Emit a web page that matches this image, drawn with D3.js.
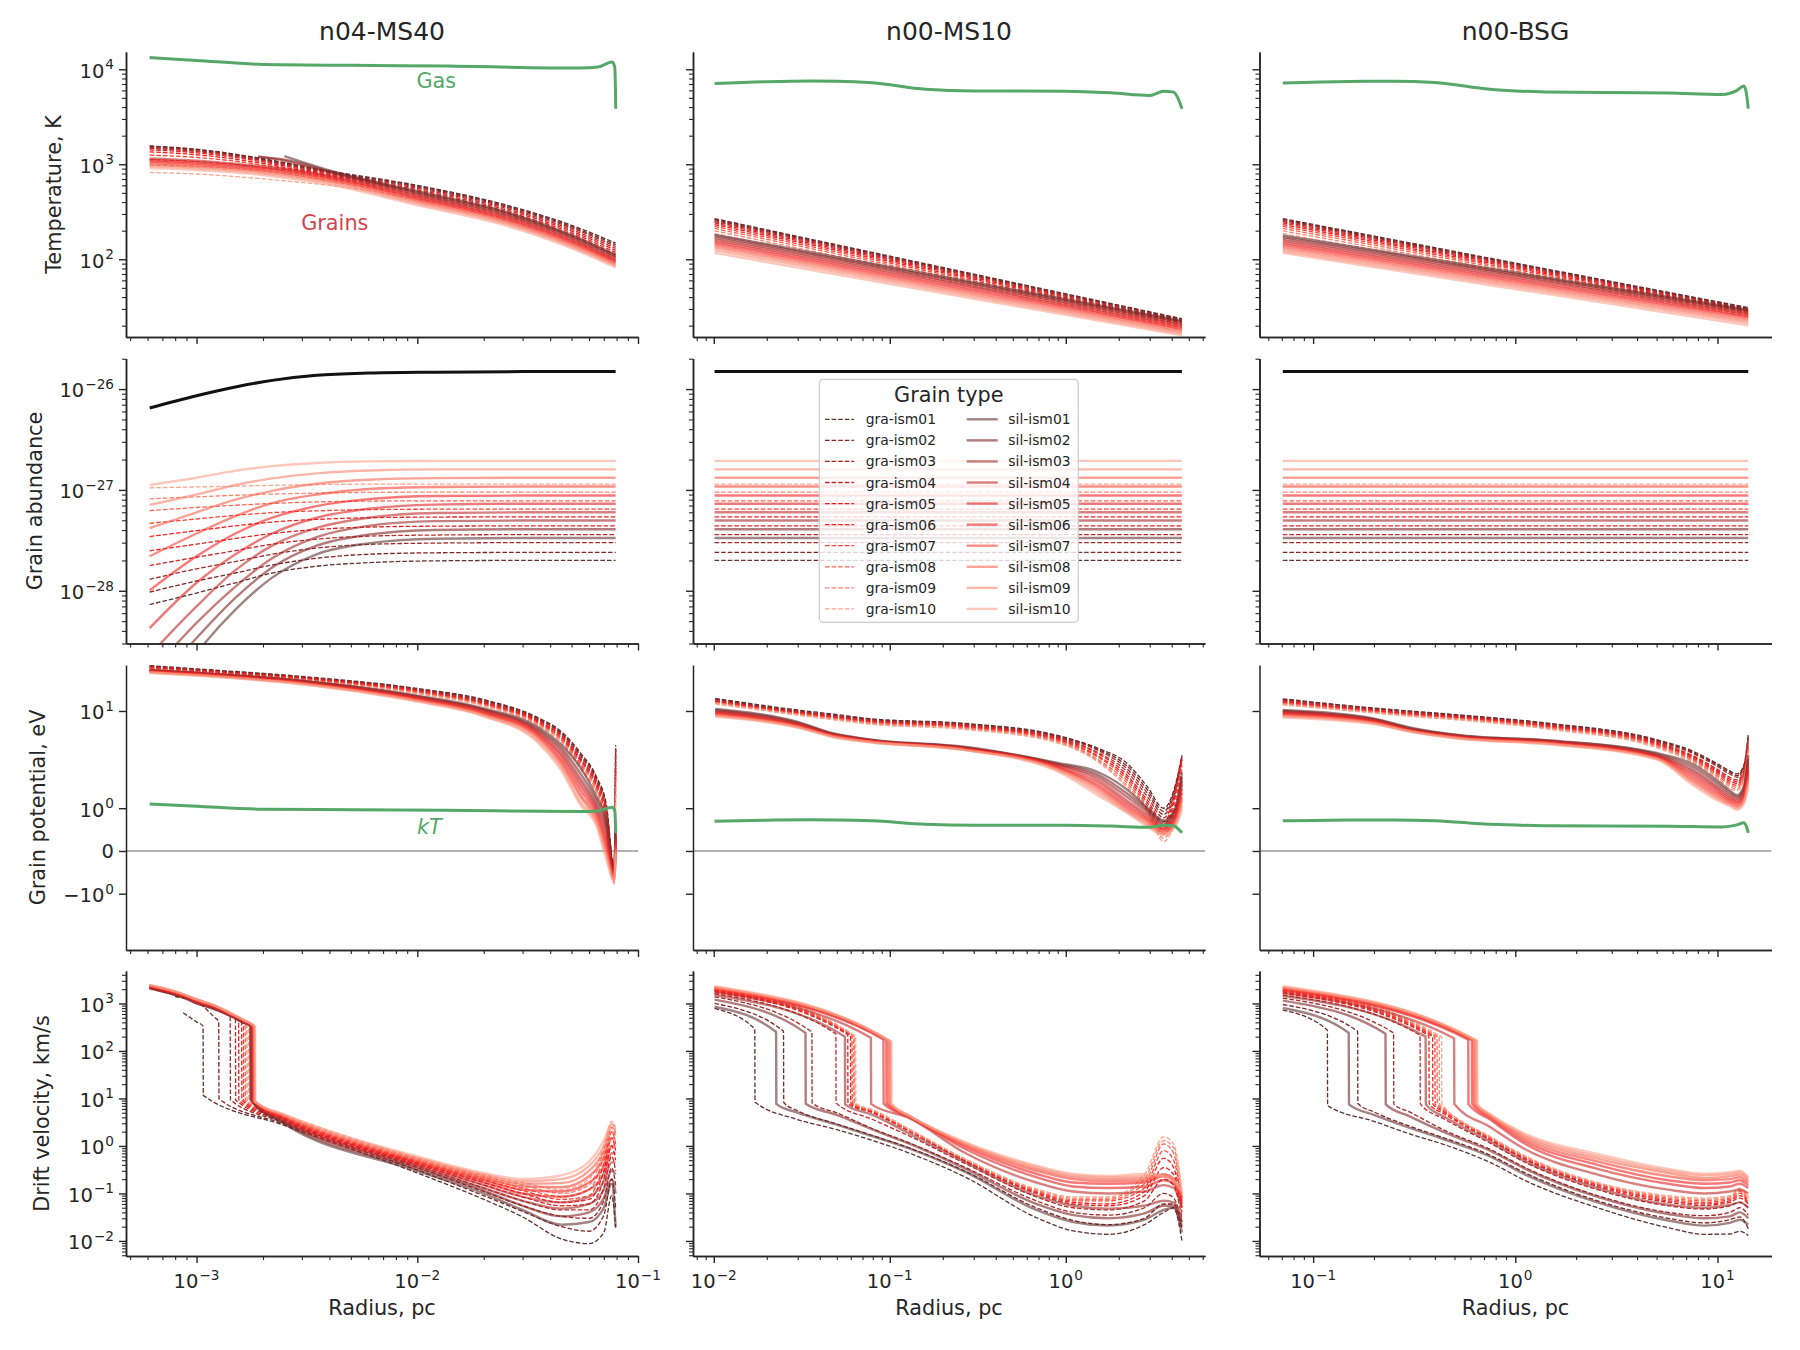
<!DOCTYPE html>
<html><head><meta charset="utf-8">
<script src="https://cdn.jsdelivr.net/npm/d3@7"></script>
<style>body{margin:0;background:#fff}svg text{font-family:"DejaVu Sans",sans-serif}</style>
</head><body><svg id="chart" width="1800" height="1350"></svg>
<script>
// ---------------- labels / categories ----------------
const titles = ["n04-MS40", "n00-MS10", "n00-BSG"];
const yLabels = ["Temperature, K", "Grain abundance", "Grain potential, eV", "Drift velocity, km/s"];
const xLabel = "Radius, pc";
const graNames = ["gra-ism01","gra-ism02","gra-ism03","gra-ism04","gra-ism05","gra-ism06","gra-ism07","gra-ism08","gra-ism09","gra-ism10"];
const silNames = ["sil-ism01","sil-ism02","sil-ism03","sil-ism04","sil-ism05","sil-ism06","sil-ism07","sil-ism08","sil-ism09","sil-ism10"];
const legendTitle = "Grain type";

// ---------------- axes ----------------
const xDomains = [[4.79e-4, 0.1], [7.62e-3, 6.18], [5.43e-2, 18.5]];
const yDomains = [[15.2, 15200], [3.0e-29, 2.01e-26], [-4.3, 24.2], [4.82e-3, 4820]];
const xTickVals = [[1e-3, 1e-2, 1e-1], [1e-2, 1e-1, 1], [1e-1, 1, 10]];
const yTickVals = [[1e2, 1e3, 1e4], [1e-28, 1e-27, 1e-26], [-1, 0, 1, 10], [1e-2, 1e-1, 1, 10, 100, 1000]];
const potTickLabels = [["\u221210", "0"], ["0", null], ["10", "0"], ["10", "1"]];
const radiusRange2 = [0.0101, 4.57];
const radiusRange3 = [0.0708, 14.2];

// ---------------- Row 1: temperature ----------------
const tempX1 = [6.13e-4, 1e-3, 1.9e-3, 2.5e-3, 4e-3, 1e-2, 2.5e-2, 5e-2, 7.92e-2];
const tempGra1 = [
 [1560,1440,1170,1040,850,600,375,228,148],
 [1540,1420,1150,1025,835,588,366,221,142],
 [1510,1390,1130,1005,820,574,356,214,136],
 [1470,1360,1110,985,805,558,345,206,130],
 [1420,1320,1080,960,785,540,333,198,124],
 [1350,1260,1040,930,765,520,320,190,118],
 [1250,1180,1000,900,740,500,308,182,112],
 [1120,1070,940,860,710,478,294,174,106],
 [980,950,860,800,670,455,280,165,100],
 [820,790,710,670,600,430,265,156,95]];
const tempSil1 = [
 [null,null,null,1220,860,520,318,180,112],
 [null,null,1190,1120,840,502,306,174,108],
 [null,null,1210,1090,820,484,295,168,104],
 [1150,1090,960,900,760,466,284,162,100],
 [1110,1050,930,870,735,450,274,156,97],
 [1070,1010,900,840,710,434,264,151,94],
 [1030,975,870,810,685,418,255,146,91],
 [990,940,840,780,660,403,246,141,88],
 [950,905,810,750,635,388,237,136,85],
 [910,870,780,720,610,372,228,131,82]];
const tempGra2 = [[268,23.7],[262,23.3],[256,22.9],[249,22.4],[241,21.9],[232,21.3],[222,20.6],[211,19.9],[199,19.1],[186,18.3]];
const tempSil2 = [[182,22.6],[175,21.9],[168,21.1],[161,20.3],[154,19.5],[147,18.7],[140,17.9],[133,17.1],[125,16.4],[117,15.8]];
const tempGra3 = [[268,31],[262,30.5],[256,30],[249,29.5],[241,28.9],[232,28.2],[222,27.5],[211,26.7],[199,25.8],[186,24.8]];
const tempSil3 = [[178,29.5],[171,28.6],[164,27.6],[157,26.6],[150,25.6],[143,24.6],[136,23.6],[129,22.5],[122,21.4],[117,20.2]];
const gasTemp1 = [[6.13e-4,13300],[1e-3,12400],[1.9e-3,11300],[5e-3,11000],[0.0136,10800],[0.055,10300],[0.066,10550],[0.0763,11900],[0.0785,10500],[0.0793,3850]];
const gasTemp2 = [[0.0101,7070],[0.02,7400],[0.035,7530],[0.05,7500],[0.08,7200],[0.16,6150],[0.3,5900],[1.0,5880],[1.8,5650],[3.0,5300],[3.6,5870],[4.1,5750],[4.35,4900],[4.57,3850]];
const gasTemp3 = [[0.0708,7180],[0.15,7450],[0.25,7480],[0.4,7250],[0.75,6150],[1.4,5780],[5.7,5630],[10.5,5420],[12.5,6000],[13.5,6650],[13.9,5600],[14.2,3850]];

// ---------------- Row 2: abundance ----------------
const abundX1 = [6.13e-4, 1e-3, 1.5e-3, 2.2e-3, 3.5e-3, 6e-3, 1.2e-2, 3e-2, 7.92e-2];
const abundGra1 = [
 [7.3e-29,9.5e-29,1.2e-28,1.5e-28,1.75e-28,1.9e-28,1.98e-28,2.0e-28,2.0e-28],
 [9.7e-29,1.25e-28,1.5e-28,1.8e-28,2.1e-28,2.3e-28,2.38e-28,2.4e-28,2.4e-28],
 [1.3e-28,1.65e-28,1.95e-28,2.3e-28,2.65e-28,2.88e-28,2.97e-28,3.0e-28,3.0e-28],
 [1.78e-28,2.15e-28,2.5e-28,2.9e-28,3.25e-28,3.48e-28,3.57e-28,3.6e-28,3.6e-28],
 [2.49e-28,2.9e-28,3.3e-28,3.7e-28,4.05e-28,4.28e-28,4.37e-28,4.4e-28,4.4e-28],
 [3.45e-28,3.95e-28,4.4e-28,4.8e-28,5.1e-28,5.3e-28,5.38e-28,5.4e-28,5.4e-28],
 [4.67e-28,5.15e-28,5.6e-28,5.95e-28,6.2e-28,6.38e-28,6.44e-28,6.45e-28,6.45e-28],
 [6.24e-28,6.7e-28,7.05e-28,7.35e-28,7.6e-28,7.75e-28,7.8e-28,7.8e-28,7.8e-28],
 [8.15e-28,8.55e-28,8.85e-28,9.1e-28,9.3e-28,9.45e-28,9.5e-28,9.5e-28,9.5e-28],
 [1.05e-27,1.07e-27,1.09e-27,1.11e-27,1.13e-27,1.14e-27,1.14e-27,1.14e-27,1.14e-27]];
const abundSil1 = [
 [5e-30,2.4e-29,6.5e-29,1.35e-28,2.3e-28,2.95e-28,3.28e-28,3.34e-28,3.34e-28],
 [1e-29,3.4e-29,8.5e-29,1.7e-28,2.8e-28,3.6e-28,4.0e-28,4.08e-28,4.08e-28],
 [1.5e-29,4.8e-29,1.1e-28,2.1e-28,3.4e-28,4.4e-28,4.9e-28,4.97e-28,4.97e-28],
 [2.3e-29,7e-29,1.6e-28,2.8e-28,4.2e-28,5.3e-28,5.9e-28,6.0e-28,6.0e-28],
 [4.26e-29,1.2e-28,2.3e-28,3.7e-28,5.3e-28,6.5e-28,7.15e-28,7.3e-28,7.3e-28],
 [1.01e-28,2.2e-28,3.7e-28,5.3e-28,6.9e-28,8.1e-28,8.7e-28,8.8e-28,8.8e-28],
 [2.2e-28,3.7e-28,5.5e-28,7.4e-28,9.0e-28,1.02e-27,1.07e-27,1.08e-27,1.08e-27],
 [4.17e-28,6.0e-28,8.0e-28,9.8e-28,1.15e-27,1.26e-27,1.31e-27,1.32e-27,1.32e-27],
 [7.1e-28,9.0e-28,1.12e-27,1.3e-27,1.46e-27,1.56e-27,1.6e-27,1.6e-27,1.6e-27],
 [1.12e-27,1.32e-27,1.55e-27,1.72e-27,1.85e-27,1.92e-27,1.94e-27,1.94e-27,1.94e-27]];
const abundTotal1 = [6.5e-27,8.6e-27,1.05e-26,1.22e-26,1.37e-26,1.44e-26,1.47e-26,1.49e-26,1.49e-26];
const abundGraFinal = [2.0e-28,2.4e-28,3.0e-28,3.6e-28,4.4e-28,5.4e-28,6.45e-28,7.8e-28,9.5e-28,1.14e-27];
const abundSilFinal = [3.34e-28,4.08e-28,4.97e-28,6.0e-28,7.3e-28,8.8e-28,1.08e-27,1.32e-27,1.6e-27,1.94e-27];
const abundTotalFinal = 1.49e-26;

// ---------------- Row 3: grain potential ----------------
const potX1 = [6.13e-4, 1e-3, 3e-3, 1e-2, 2e-2, 3.5e-2, 4.5e-2, 5.5e-2, 6.5e-2, 7.2e-2, 7.8e-2, 7.92e-2];
const potGra1 = [
 [23.9,22.5,19.5,15.5,12.5,8.8,6.6,4.2,2.4,1.1,-0.3,4.8],
 [23.7,22.3,19.3,15.3,12.3,8.6,6.4,4.0,2.3,1.0,-0.35,4.2],
 [23.5,22.1,19.2,15.2,12.1,8.5,6.3,3.9,2.2,0.95,-0.4,5.0],
 [23.3,21.9,19.0,15.0,11.9,8.3,6.1,3.7,2.1,0.9,-0.45,3.5],
 [23.1,21.7,18.8,14.8,11.7,8.2,6.0,3.6,2.0,0.8,-0.5,4.5],
 [22.9,21.5,18.7,14.7,11.6,8.0,5.8,3.5,1.9,0.7,-0.55,3.0],
 [22.7,21.3,18.5,14.5,11.4,7.9,5.7,3.3,1.8,0.65,-0.6,2.5],
 [22.5,21.1,18.3,14.3,11.3,7.8,5.5,3.2,1.7,0.55,-0.62,2.0],
 [22.2,21.0,18.1,14.1,11.1,7.6,5.4,3.0,1.6,0.5,-0.66,1.6],
 [22.0,20.8,18.0,14.0,11.0,7.5,5.2,2.9,1.5,0.4,-0.7,1.2]];
const potSil1 = [
 [22.0,20.9,18.0,13.5,10.5,7.3,5.0,3.0,1.4,0.63,-0.4,0.5],
 [21.9,20.8,17.9,13.3,10.3,7.0,4.7,2.6,1.25,0.5,-0.42,0.4],
 [21.8,20.7,17.7,13.2,10.2,6.8,4.4,2.3,1.1,0.4,-0.45,0.3],
 [21.7,20.6,17.6,13.0,10.0,6.6,4.1,2.1,1.0,0.3,-0.47,0.25],
 [21.6,20.5,17.5,12.8,9.8,6.4,3.9,1.9,0.9,0.2,-0.5,0.2],
 [21.5,20.4,17.3,12.7,9.6,6.2,3.6,1.7,0.8,0.1,-0.52,0.15],
 [21.3,20.2,17.2,12.5,9.5,6.0,3.4,1.5,0.7,0.05,-0.55,0.1],
 [21.2,20.1,17.1,12.3,9.3,5.8,3.2,1.4,0.6,-0.02,-0.57,0.05],
 [21.0,19.9,16.9,12.2,9.1,5.5,3.0,1.2,0.55,-0.08,-0.6,0.0],
 [20.9,19.8,16.8,12.0,9.0,5.3,2.8,1.1,0.48,-0.15,-0.62,-0.05]];
const kT1 = [[6.13e-4,1.15],[1e-3,1.07],[1.9e-3,0.97],[5e-3,0.95],[0.0136,0.93],[0.055,0.89],[0.066,0.91],[0.0763,1.03],[0.0785,0.9],[0.0793,0.33]];

const potX2 = [0.0102, 0.03, 0.048, 0.076, 0.27, 0.9, 1.5, 2.2, 2.9, 3.6, 4.2, 4.57];
const potGra2 = [
 [12.8,10.2,9.4,8.6,7.8,6.1,4.7,3.4,1.9,1.0,2.0,4.0],
 [12.6,10.0,9.2,8.5,7.7,6.0,4.6,3.2,1.75,0.9,1.9,3.9],
 [12.4,9.9,9.1,8.4,7.6,5.9,4.5,3.0,1.6,0.8,1.8,3.8],
 [12.3,9.8,9.0,8.3,7.5,5.8,4.3,2.8,1.45,0.7,1.7,3.7],
 [12.1,9.7,8.9,8.2,7.4,5.7,4.2,2.6,1.3,0.6,1.6,3.6],
 [12.0,9.6,8.8,8.1,7.3,5.6,4.0,2.45,1.2,0.5,1.5,3.5],
 [11.9,9.5,8.7,8.0,7.2,5.5,3.9,2.3,1.1,0.4,1.3,3.2],
 [11.8,9.4,8.6,7.9,7.1,5.4,3.7,2.15,1.0,0.3,1.1,2.9],
 [11.6,9.3,8.5,7.8,7.0,5.3,3.6,2.0,0.95,0.22,0.9,2.6],
 [11.5,9.2,8.4,7.7,6.9,5.2,3.5,1.9,0.9,0.16,0.7,2.3]];
const potSil2 = [
 [10.4,8.05,6.35,5.63,4.8,3.37,2.76,1.78,1.02,0.63,1.02,2.7],
 [10.2,7.9,6.3,5.6,4.75,3.3,2.6,1.6,0.95,0.58,0.95,2.4],
 [10.0,7.8,6.25,5.55,4.7,3.25,2.45,1.45,0.88,0.53,0.88,2.2],
 [9.85,7.7,6.2,5.5,4.65,3.2,2.3,1.3,0.8,0.48,0.8,2.0],
 [9.7,7.6,6.15,5.5,4.6,3.1,2.15,1.2,0.73,0.44,0.75,1.8],
 [9.55,7.5,6.1,5.45,4.58,3.05,2.0,1.1,0.67,0.4,0.68,1.6],
 [9.4,7.4,6.05,5.4,4.55,3.0,1.9,1.02,0.62,0.36,0.62,1.4],
 [9.25,7.3,6.0,5.38,4.5,2.92,1.78,0.95,0.57,0.33,0.57,1.25],
 [9.1,7.25,5.92,5.35,4.48,2.85,1.65,0.9,0.52,0.3,0.52,1.1],
 [8.95,7.17,5.87,5.3,4.45,2.76,1.52,0.87,0.48,0.28,0.48,0.95]];
const kT2 = [[0.0101,0.61],[0.02,0.638],[0.035,0.649],[0.05,0.646],[0.08,0.62],[0.16,0.53],[0.3,0.508],[1.0,0.507],[1.8,0.487],[3.0,0.457],[3.6,0.506],[4.1,0.495],[4.35,0.42],[4.57,0.332]];

const potX3 = [0.0708, 0.2, 0.3, 0.55, 1.5, 5.0, 7.5, 10.0, 11.5, 12.5, 13.5, 14.2];
const potGra3 = [
 [12.7,10.6,10.0,9.2,7.8,5.6,4.4,3.3,2.8,2.6,3.2,6.2],
 [12.5,10.5,9.9,9.1,7.7,5.5,4.3,3.2,2.7,2.5,3.1,6.0],
 [12.4,10.4,9.8,9.0,7.6,5.4,4.2,3.1,2.6,2.4,3.0,5.8],
 [12.2,10.2,9.6,8.9,7.5,5.3,4.0,2.9,2.4,2.25,2.8,5.5],
 [12.0,10.1,9.5,8.8,7.4,5.2,3.9,2.8,2.3,2.15,2.7,5.3],
 [11.9,10.0,9.4,8.7,7.3,5.1,3.8,2.7,2.2,2.05,2.6,5.0],
 [11.7,9.9,9.3,8.6,7.2,5.0,3.7,2.6,2.1,1.95,2.5,4.8],
 [11.6,9.8,9.2,8.5,7.1,4.9,3.6,2.5,2.0,1.85,2.4,4.6],
 [11.4,9.7,9.1,8.4,7.0,4.8,3.5,2.4,1.9,1.75,2.3,4.4],
 [11.3,9.6,9.0,8.3,6.9,4.7,3.4,2.3,1.8,1.7,2.2,4.2]];
const potSil3 = [
 [10.2,8.6,7.2,6.1,5.5,4.2,3.3,2.2,1.7,1.5,1.9,4.0],
 [10.0,8.5,7.1,6.05,5.45,4.1,3.1,2.05,1.6,1.42,1.8,3.7],
 [9.9,8.4,7.0,6.0,5.4,4.0,2.9,1.9,1.5,1.35,1.7,3.4],
 [9.7,8.3,6.9,5.95,5.35,3.95,2.75,1.8,1.42,1.28,1.6,3.1],
 [9.6,8.2,6.85,5.9,5.3,3.9,2.6,1.7,1.35,1.22,1.5,2.9],
 [9.4,8.1,6.8,5.85,5.25,3.85,2.45,1.6,1.28,1.16,1.42,2.7],
 [9.3,8.0,6.75,5.8,5.2,3.8,2.3,1.5,1.22,1.1,1.35,2.5],
 [9.1,7.9,6.7,5.75,5.15,3.75,2.2,1.42,1.16,1.05,1.28,2.3],
 [9.0,7.8,6.65,5.7,5.1,3.7,2.1,1.35,1.12,1.0,1.22,2.1],
 [8.8,7.7,6.6,5.65,5.05,3.65,2.0,1.28,1.08,0.95,1.15,1.9]];
const kT3 = [[0.0708,0.62],[0.15,0.642],[0.25,0.645],[0.4,0.625],[0.75,0.53],[1.4,0.498],[5.7,0.485],[10.5,0.467],[12.5,0.517],[13.5,0.573],[13.9,0.48],[14.2,0.332]];

// ---------------- Row 4: drift velocity ----------------
// pre-jump values, jump [x, value above, value below], post-jump values
const driftPreX1 = [6.13e-4, 8e-4, 8.7e-4, 1e-3, 1.2e-3, 1.45e-3, 1.65e-3];
const driftPreGra1 = [
 [null,null,635,410,null,null,null],
 [null,1400,1300,1085,520,null,null],
 [2100,1520,1370,1120,780,null,null],
 [2150,1560,1400,1140,800,null,null],
 [2200,1600,1430,1160,820,560,null],
 [2250,1640,1460,1180,840,575,null],
 [2300,1680,1490,1200,860,590,null],
 [2350,1720,1520,1220,880,600,410],
 [2400,1760,1550,1240,900,610,415],
 [2450,1800,1580,1260,920,620,420]];
const driftPreSil1 = [
 [2070,1500,1330,1000,760,520,380],
 [2110,1530,1360,1020,780,530,390],
 [2150,1560,1390,1040,800,540,400],
 [2200,1600,1420,1070,820,550,410],
 [2250,1640,1450,1100,840,560,420],
 [2300,1680,1480,1130,860,570,425],
 [2350,1720,1510,1160,880,580,430],
 [2400,1760,1540,1190,900,590,435],
 [2430,1790,1560,1210,910,595,438],
 [2450,1800,1580,1230,920,600,440]];
const driftJumpGra1 = [[1.07e-3,332,11.6],[1.26e-3,410,9.8],[1.42e-3,520,9.3],[1.5e-3,500,9.2],[1.55e-3,470,9.1],[1.6e-3,440,9.0],[1.63e-3,420,8.9],[1.66e-3,400,8.8],[1.69e-3,390,8.7],[1.72e-3,380,8.6]];
const driftJumpSil1 = [[1.75e-3,350,9.5],[1.76e-3,345,9.4],[1.77e-3,340,9.3],[1.78e-3,338,9.2],[1.79e-3,336,9.1],[1.8e-3,334,9.0],[1.81e-3,332,8.9],[1.82e-3,330,8.8],[1.83e-3,328,8.7],[1.84e-3,325,8.6]];
const driftPostX1 = [2.5e-3, 1e-2, 2e-2, 3e-2, 4.5e-2, 6e-2, 7e-2, 7.6e-2, 7.92e-2];
const driftPostGra1 = [
 [2.7,0.27,0.075,0.032,0.011,0.0088,0.015,0.09,0.019],
 [2.9,0.31,0.09,0.042,0.02,0.016,0.035,0.2,0.05],
 [3.1,0.35,0.11,0.055,0.033,0.03,0.07,0.35,0.15],
 [3.3,0.38,0.13,0.07,0.045,0.045,0.13,0.6,0.3],
 [3.5,0.41,0.15,0.085,0.055,0.06,0.2,1.0,0.5],
 [3.7,0.44,0.17,0.1,0.065,0.075,0.3,1.5,0.8],
 [3.9,0.47,0.19,0.115,0.075,0.09,0.42,2.0,1.1],
 [4.1,0.5,0.21,0.13,0.085,0.12,0.6,2.5,1.5],
 [4.3,0.54,0.23,0.15,0.1,0.15,0.8,3.0,1.9],
 [4.5,0.57,0.25,0.17,0.12,0.2,1.0,3.3,2.3]];
const driftPostSil1 = [
 [2.9,0.3,0.1,0.045,0.022,0.025,0.05,0.16,0.02],
 [3.1,0.33,0.115,0.055,0.033,0.04,0.08,0.2,0.1],
 [3.3,0.36,0.13,0.07,0.048,0.06,0.12,0.3,0.25],
 [3.5,0.39,0.15,0.085,0.065,0.085,0.18,0.45,0.45],
 [3.7,0.42,0.17,0.1,0.085,0.12,0.26,0.7,0.7],
 [3.9,0.45,0.19,0.12,0.11,0.17,0.38,1.0,1.0],
 [4.1,0.48,0.21,0.14,0.135,0.23,0.55,1.4,1.4],
 [4.3,0.52,0.23,0.16,0.165,0.3,0.75,1.9,1.8],
 [4.45,0.56,0.25,0.18,0.2,0.38,1.0,2.4,2.2],
 [4.6,0.6,0.27,0.2,0.24,0.47,1.3,2.9,2.6]];

const driftPreX2 = [0.0101];
const driftPreGra2 = [[783],[1000],[1380],[1600],[1750],[1850],[1950],[2050],[2150],[2250]];
const driftPreSil2 = [[850],[1200],[1500],[1700],[1850],[1950],[2050],[2150],[2230],[2320]];
const driftJumpGra2 = [[0.0171,290,8.4],[0.0249,260,8.2],[0.0361,250,8.0],[0.0494,230,8.0],[0.0577,220,7.8],[0.0598,215,7.8],[0.061,212,7.8],[0.0624,208,7.8],[0.063,206,7.8],[0.064,204,7.8]];
const driftJumpSil2 = [[0.0226,250,7.7],[0.0332,240,7.7],[0.0556,200,7.5],[0.0781,190,7.7],[0.092,175,7.8],[0.0955,170,7.8],[0.098,165,7.8],[0.1,160,7.8],[0.101,157,7.8],[0.102,155,7.7]];
const driftPostX2 = [0.03, 0.05, 0.08, 0.13, 0.27, 0.68, 1.1, 1.75, 2.8, 3.6, 4.1, 4.57];
const driftPostGra2 = [
 [3.6,2.2,1.3,0.7,0.218,0.031,0.0163,0.0138,0.022,0.04,0.05,0.01],
 [5.5,2.9,1.65,0.9,0.29,0.05,0.027,0.022,0.03,0.06,0.06,0.018],
 [null,5.0,2.3,1.15,0.35,0.07,0.04,0.035,0.05,0.1,0.08,0.025],
 [null,null,3.6,1.6,0.42,0.085,0.05,0.045,0.07,0.2,0.15,0.03],
 [null,null,5.0,2.0,0.47,0.1,0.06,0.055,0.09,0.35,0.25,0.04],
 [null,null,5.2,2.05,0.48,0.105,0.065,0.06,0.11,0.55,0.35,0.05],
 [null,null,5.4,2.1,0.5,0.11,0.07,0.07,0.13,0.8,0.5,0.06],
 [null,null,5.6,2.15,0.51,0.115,0.075,0.075,0.16,1.1,0.7,0.08],
 [null,null,5.7,2.2,0.52,0.12,0.08,0.08,0.2,1.3,0.9,0.1],
 [null,null,5.8,2.25,0.53,0.125,0.085,0.085,0.25,1.55,1.1,0.12]];
const driftPostSil2 = [
 [5.0,2.8,1.6,0.88,0.28,0.045,0.025,0.021,0.028,0.045,0.05,0.015],
 [null,4.5,2.2,1.1,0.33,0.06,0.035,0.03,0.038,0.055,0.055,0.02],
 [null,null,4.5,1.8,0.45,0.09,0.055,0.048,0.055,0.07,0.065,0.025],
 [null,null,null,3.8,0.7,0.17,0.11,0.1,0.11,0.15,0.13,0.05],
 [null,null,null,4.0,0.85,0.22,0.14,0.13,0.14,0.19,0.16,0.06],
 [null,null,null,4.1,0.95,0.26,0.17,0.16,0.17,0.23,0.19,0.07],
 [null,null,null,4.15,1.02,0.3,0.2,0.18,0.19,0.25,0.2,0.08],
 [null,null,null,4.2,1.08,0.33,0.22,0.2,0.21,0.25,0.2,0.09],
 [null,null,null,4.25,1.13,0.36,0.24,0.22,0.23,0.24,0.19,0.1],
 [null,null,null,4.3,1.19,0.385,0.256,0.234,0.256,0.23,0.185,0.113]];

const driftPreX3 = [0.0708];
const driftPreGra3 = [[723],[950],[1300],[1500],[1650],[1750],[1850],[1950],[2050],[2150]];
const driftPreSil3 = [[800],[1150],[1450],[1650],[1850],[1950],[2050],[2150],[2230],[2320]];
const driftJumpGra3 = [[0.1176,274,7.1],[0.166,260,7.8],[0.25,240,7.6],[0.338,215,7.7],[0.374,210,7.7],[0.39,205,7.7],[0.40,202,7.7],[0.41,200,7.7],[0.42,198,7.7],[0.432,196,7.7]];
const driftJumpSil3 = [[0.150,240,7.5],[0.228,230,7.5],[0.36,200,7.5],[0.498,185,7.6],[0.585,172,7.6],[0.61,168,7.6],[0.623,166,7.6],[0.635,165,7.6],[0.642,164,7.6],[0.648,163,7.6]];
const driftPostX3 = [0.2, 0.3, 0.45, 0.75, 1.12, 2.55, 5.7, 8.6, 11.5, 12.9, 14.2];
const driftPostGra3 = [
 [3.3,1.8,1.05,0.45,0.186,0.05,0.019,0.0138,0.014,0.016,0.013],
 [5.2,2.6,1.45,0.64,0.27,0.07,0.03,0.024,0.028,0.032,0.018],
 [null,5.2,2.1,0.85,0.35,0.09,0.04,0.034,0.04,0.05,0.035],
 [null,null,3.6,1.15,0.45,0.12,0.055,0.047,0.055,0.065,0.05],
 [null,null,4.6,1.35,0.52,0.14,0.065,0.056,0.065,0.08,0.06],
 [null,null,5.0,1.4,0.54,0.15,0.07,0.06,0.07,0.09,0.065],
 [null,null,5.3,1.45,0.56,0.155,0.075,0.065,0.075,0.1,0.07],
 [null,null,5.6,1.5,0.58,0.16,0.08,0.07,0.08,0.11,0.075],
 [null,null,5.9,1.55,0.6,0.165,0.085,0.075,0.085,0.12,0.08],
 [null,null,6.3,1.6,0.62,0.17,0.09,0.08,0.09,0.13,0.085]];
const driftPostSil3 = [
 [4.5,2.4,1.35,0.6,0.25,0.065,0.027,0.021,0.024,0.028,0.022],
 [null,4.2,1.9,0.8,0.33,0.085,0.037,0.03,0.033,0.04,0.03],
 [null,null,4.0,1.25,0.48,0.13,0.058,0.05,0.057,0.065,0.05],
 [null,null,null,2.5,0.85,0.25,0.12,0.1,0.11,0.12,0.1],
 [null,null,null,3.6,1.1,0.33,0.16,0.13,0.14,0.16,0.13],
 [null,null,null,3.9,1.25,0.4,0.19,0.16,0.17,0.19,0.15],
 [null,null,null,4.2,1.4,0.47,0.23,0.19,0.2,0.22,0.17],
 [null,null,null,4.4,1.55,0.54,0.27,0.21,0.23,0.25,0.19],
 [null,null,null,4.55,1.68,0.61,0.3,0.24,0.26,0.28,0.21],
 [null,null,null,4.7,1.8,0.68,0.33,0.26,0.28,0.3,0.22]];

// ---------------- annotations (data coordinates) ----------------
const annotations = [
 {row:0, col:0, x:0.0122, y:7590, text:"Gas", color:"#55a868", italic:false},
 {row:0, col:0, x:4.23e-3, y:239, text:"Grains", color:"#d0444e", italic:false},
 {row:2, col:0, x:0.01135, y:0.475, text:"kT", color:"#55a868", italic:true}];

// ---------------- style ----------------
const graColors = ["#603030","#7f2525","#a02a2a","#c22a2a","#e02222","#f51f1f","#f84535","#f96652","#fa8670","#fba48e"];
const silColors = graColors;
const green = "#55a868";
const ink = "#262626";
const W = 512, H = 285;
const colLeft = [126, 693, 1259.5];
const rowTop = [52, 358.5, 665, 971];
const yLabelX = [53.6, 34.8, 38, 42.4];
const symlogConstant = 0.85;
const tickFont = 19.5;

// ---------------- build series ----------------
const knotSeries = (xs, rows) => rows.map(r => xs.map((x, i) => [x, r[i]]));
const endSeries = (range, rows) => rows.map(r => [[range[0], r[0]], [range[1], r[1]]]);
const flatSeries = (range, vals) => vals.map(v => [[range[0], v], [range[1], v]]);
function driftSeries(preX, preRows, jumps, postX, postRows) {
  return preRows.map((pre, k) => {
    const [xs, vTop, vBot] = jumps[k];
    const pts = [];
    preX.forEach((x, i) => { if (pre[i] != null && x < xs) pts.push([x, pre[i]]); });
    pts.push([xs, vTop]); pts.push([xs * 1.003, vBot]);
    postX.forEach((x, i) => { if (postRows[k][i] != null && x > xs * 1.003) pts.push([x, postRows[k][i]]); });
    return pts;
  });
}

const panels = [
 [ {gra: knotSeries(tempX1, tempGra1), sil: knotSeries(tempX1, tempSil1), extra: [{pts: gasTemp1, color: green, w: 3}]},
   {gra: endSeries(radiusRange2, tempGra2), sil: endSeries(radiusRange2, tempSil2), extra: [{pts: gasTemp2, color: green, w: 3}]},
   {gra: endSeries(radiusRange3, tempGra3), sil: endSeries(radiusRange3, tempSil3), extra: [{pts: gasTemp3, color: green, w: 3}]} ],
 [ {gra: knotSeries(abundX1, abundGra1), sil: knotSeries(abundX1, abundSil1), extra: [{pts: knotSeries(abundX1, [abundTotal1])[0], color: "#111", w: 3}]},
   {gra: flatSeries(radiusRange2, abundGraFinal), sil: flatSeries(radiusRange2, abundSilFinal), extra: [{pts: flatSeries(radiusRange2, [abundTotalFinal])[0], color: "#111", w: 3}]},
   {gra: flatSeries(radiusRange3, abundGraFinal), sil: flatSeries(radiusRange3, abundSilFinal), extra: [{pts: flatSeries(radiusRange3, [abundTotalFinal])[0], color: "#111", w: 3}]} ],
 [ {gra: knotSeries(potX1, potGra1), sil: knotSeries(potX1, potSil1), extra: [{pts: kT1, color: green, w: 3}]},
   {gra: knotSeries(potX2, potGra2), sil: knotSeries(potX2, potSil2), extra: [{pts: kT2, color: green, w: 3}]},
   {gra: knotSeries(potX3, potGra3), sil: knotSeries(potX3, potSil3), extra: [{pts: kT3, color: green, w: 3}]} ],
 [ {gra: driftSeries(driftPreX1, driftPreGra1, driftJumpGra1, driftPostX1, driftPostGra1), sil: driftSeries(driftPreX1, driftPreSil1, driftJumpSil1, driftPostX1, driftPostSil1), extra: []},
   {gra: driftSeries(driftPreX2, driftPreGra2, driftJumpGra2, driftPostX2, driftPostGra2), sil: driftSeries(driftPreX2, driftPreSil2, driftJumpSil2, driftPostX2, driftPostSil2), extra: []},
   {gra: driftSeries(driftPreX3, driftPreGra3, driftJumpGra3, driftPostX3, driftPostGra3), sil: driftSeries(driftPreX3, driftPreSil3, driftJumpSil3, driftPostX3, driftPostSil3), extra: []} ]
];

// ---------------- drawing ----------------
const svg = d3.select("#chart");
const defs = svg.append("defs");
const expStr = v => { const e = Math.round(Math.log10(v)); return e < 0 ? "\u2212" + (-e) : String(e); };
function tex(g, x, y, base, sup, anchor, size) {
  const t = g.append("text").attr("x", x).attr("y", y).attr("text-anchor", anchor)
    .attr("font-size", size).attr("fill", ink);
  t.append("tspan").text(base);
  if (sup != null) t.append("tspan").attr("font-size", size * 0.7).attr("dx", 1).attr("dy", -size * 0.43).text(sup);
}
function styleAxis(a, w) {
  a.select(".domain").attr("stroke", ink).attr("stroke-width", 1.5);
  a.selectAll(".tick line").attr("stroke", ink).attr("stroke-width", w);
}

for (let ri = 0; ri < 4; ri++) for (let ci = 0; ci < 3; ci++) {
  const g = svg.append("g").attr("transform", `translate(${colLeft[ci]},${rowTop[ri]})`);
  const x = d3.scaleLog().domain(xDomains[ci]).range([0, W]);
  const y = ri === 2
    ? d3.scaleSymlog().constant(symlogConstant).domain(yDomains[2]).range([H, 0])
    : d3.scaleLog().domain(yDomains[ri]).range([H, 0]);
  const id = `clip${ri}${ci}`;
  defs.append("clipPath").attr("id", id).append("rect").attr("width", W).attr("height", H);
  const plot = g.append("g").attr("clip-path", `url(#${id})`);
  if (ri === 2) plot.append("line").attr("x1", 0).attr("x2", W).attr("y1", y(0)).attr("y2", y(0))
      .attr("stroke", "#999").attr("stroke-width", 1.3);
  const line = d3.line().defined(d => d[1] != null).x(d => x(d[0])).y(d => y(d[1])).curve(d3.curveMonotoneX);
  const spec = panels[ri][ci];
  spec.gra.forEach((pts, k) => plot.append("path").attr("d", line(pts)).attr("fill", "none")
    .attr("stroke", graColors[k]).attr("stroke-width", 1.3).attr("stroke-dasharray", "4.6,2"));
  spec.sil.forEach((pts, k) => plot.append("path").attr("d", line(pts)).attr("fill", "none")
    .attr("stroke", silColors[k]).attr("stroke-opacity", 0.6).attr("stroke-width", 2.4));
  spec.extra.forEach(e => plot.append("path").attr("d", line(e.pts)).attr("fill", "none")
    .attr("stroke", e.color).attr("stroke-width", e.w).attr("stroke-linejoin", "round"));

  // x axis
  const xMaj = xTickVals[ci];
  const xMin = x.ticks().filter(v => !xMaj.some(m => Math.abs(m - v) / m < 1e-6));
  styleAxis(g.append("g").attr("transform", `translate(0,${H})`)
    .call(d3.axisBottom(x).tickValues(xMin).tickSize(4).tickSizeOuter(0).tickFormat("")), 1.1);
  styleAxis(g.append("g").attr("transform", `translate(0,${H})`)
    .call(d3.axisBottom(x).tickValues(xMaj).tickSize(7).tickSizeOuter(0).tickFormat("")), 1.4);
  // y axis
  const yMaj = yTickVals[ri];
  if (ri !== 2) {
    const yMin = y.ticks().filter(v => !yMaj.some(m => Math.abs(m - v) / m < 1e-6));
    styleAxis(g.append("g").call(d3.axisLeft(y).tickValues(yMin).tickSize(4).tickSizeOuter(0).tickFormat("")), 1.1);
  }
  styleAxis(g.append("g").call(d3.axisLeft(y).tickValues(yMaj).tickSize(7).tickSizeOuter(0).tickFormat("")), 1.4);

  if (ci === 0) {
    yMaj.forEach((v, i) => {
      if (ri === 2) {
        const [b, s] = potTickLabels[i];
        tex(g, -12, y(v) + (s == null ? 7 : 8.3), b, s, "end", tickFont);
      } else tex(g, -12, y(v) + 8.3, "10", expStr(v), "end", tickFont);
    });
    svg.append("text").attr("transform", `translate(${yLabelX[ri]},${rowTop[ri] + H / 2}) rotate(-90)`)
      .attr("text-anchor", "middle").attr("dominant-baseline", "central")
      .attr("font-size", 20.8).attr("fill", ink).text(yLabels[ri]);
  }
  if (ri === 3) {
    xMaj.forEach(v => tex(g, x(v), H + 32, "10", expStr(v), "middle", tickFont));
    g.append("text").attr("x", W / 2).attr("y", H + 59).attr("text-anchor", "middle")
      .attr("font-size", 20.8).attr("fill", ink).text(xLabel);
  }
  if (ri === 0) {
    g.append("text").attr("x", W / 2).attr("y", -12).attr("text-anchor", "middle")
      .attr("font-size", 25).attr("fill", ink).text(titles[ci]);
  }
  annotations.filter(a => a.row === ri && a.col === ci).forEach(a => {
    g.append("text").attr("x", x(a.x)).attr("y", y(a.y)).attr("text-anchor", "middle")
      .attr("dominant-baseline", "central").attr("font-size", 20.8).attr("fill", a.color)
      .attr("font-style", a.italic ? "italic" : "normal").text(a.text);
  });

  // legend
  if (ri === 1 && ci === 1) {
    const L = g.append("g").attr("transform", "translate(126.3,20.8)");
    L.append("rect").attr("width", 259).attr("height", 243).attr("rx", 4)
      .attr("fill", "#fff").attr("fill-opacity", 0.8).attr("stroke", "#cccccc").attr("stroke-width", 1.2);
    L.append("text").attr("x", 129.5).attr("y", 22.4).attr("text-anchor", "middle")
      .attr("font-size", 20.8).attr("fill", ink).text(legendTitle);
    graNames.forEach((n, k) => {
      const yy = 40 + k * 21.07;
      L.append("line").attr("x1", 5.7).attr("x2", 34.7).attr("y1", yy).attr("y2", yy)
        .attr("stroke", graColors[k]).attr("stroke-width", 1.3).attr("stroke-dasharray", "4.6,2");
      L.append("text").attr("x", 46.4).attr("y", yy + 5).attr("font-size", 13.9).attr("fill", ink).text(n);
    });
    silNames.forEach((n, k) => {
      const yy = 40 + k * 21.07;
      L.append("line").attr("x1", 147.4).attr("x2", 178.4).attr("y1", yy).attr("y2", yy)
        .attr("stroke", silColors[k]).attr("stroke-opacity", 0.6).attr("stroke-width", 2.4);
      L.append("text").attr("x", 189).attr("y", yy + 5).attr("font-size", 13.9).attr("fill", ink).text(n);
    });
  }
}
</script></body></html>
